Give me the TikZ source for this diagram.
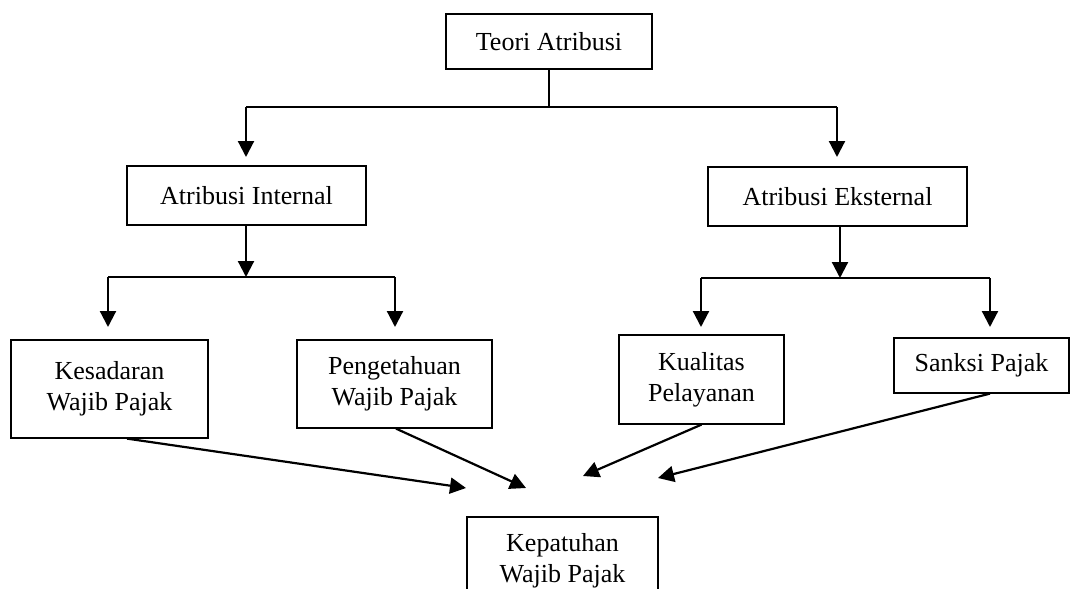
\documentclass[tikz,border=0pt]{standalone}
\usepackage{fontspec}
\setmainfont{Liberation Serif}
\usetikzlibrary{arrows.meta}
\begin{document}
\begin{tikzpicture}[x=1pt,y=-1pt,
  box/.style={draw,line width=1.2pt,align=center,inner sep=0pt,
    font=\fontsize{26}{31}\selectfont},
  thin/.style={line width=1.3pt},
  arr/.style={line width=2.2pt,-{Triangle[length=16pt,width=16pt]}},
  arrline/.style={line width=2.2pt}]
\useasboundingbox (0,0) rectangle (1072,589);
\clip (0,0) rectangle (1072,589);
% nodes
\node[box,minimum width=206pt,minimum height=55pt] (teori) at (549,41.5) {Teori Atribusi};
\node[box,minimum width=239pt,minimum height=59pt] (internal) at (246.5,195.5) {Atribusi Internal};
\node[box,minimum width=259pt,minimum height=59pt] (eksternal) at (837.5,196.5) {Atribusi Eksternal};
\node[box,minimum width=197pt,minimum height=98pt] (kesadaran) at (109.5,389) {Kesadaran\\Wajib Pajak};
\node[box,minimum width=195pt,minimum height=88pt] (pengetahuan) at (394.5,384) {Pengetahuan\\Wajib Pajak};
\node[box,minimum width=165pt,minimum height=89pt] (kualitas) at (701.5,379.5) {Kualitas\\Pelayanan};
\node[box,minimum width=175pt,minimum height=55pt] (sanksi) at (981.5,365.5) {Sanksi Pajak};
\node[box,minimum width=191pt,minimum height=88pt] (kepatuhan) at (562.5,561) {Kepatuhan\\Wajib Pajak};
% junction coordinates
\coordinate (jt) at (549,107);
\coordinate (jtl) at (246,107);
\coordinate (jtr) at (837,107);
\coordinate (ai) at (246,157);
\coordinate (ae) at (837,157);
\coordinate (ji) at (246,277);
\coordinate (jil) at (108,277);
\coordinate (jir) at (395,277);
\coordinate (ak) at (108,327);
\coordinate (ap) at (395,327);
\coordinate (je) at (840,278);
\coordinate (jel) at (701,278);
\coordinate (jer) at (990,278);
\coordinate (aq) at (701,327);
\coordinate (as) at (990,327);
\coordinate (t1) at (466,488);
\coordinate (t2) at (526,488);
\coordinate (t3) at (583,476);
\coordinate (t4) at (658,478);
% top level
\draw[thin] (teori.south) -- (jt);
\draw[thin] (jtl) -- (jtr);
\draw[arr] (jtl) -- (ai);
\draw[arr] (jtr) -- (ae);
% internal
\draw[arr] (internal.south -| ji) -- (ji);
\draw[arrline] (jil) -- (jir);
\draw[arr] (jil) -- (ak);
\draw[arr] (jir) -- (ap);
% eksternal
\draw[arr] (eksternal.south -| je) -- (je);
\draw[arrline] (jel) -- (jer);
\draw[arr] (jel) -- (aq);
\draw[arr] (jer) -- (as);
% to kepatuhan
\draw[arr] ([xshift=17.5pt]kesadaran.south) -- (t1);
\draw[arr] ([xshift=1.5pt]pengetahuan.south) -- (t2);
\draw[arr] (kualitas.south) -- (t3);
\draw[arr] ([xshift=8.5pt]sanksi.south) -- (t4);
\end{tikzpicture}
\end{document}
